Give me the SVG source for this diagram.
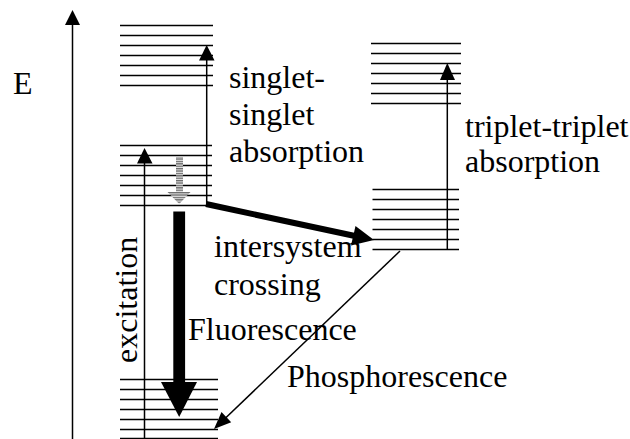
<svg xmlns="http://www.w3.org/2000/svg" width="630" height="439" viewBox="0 0 630 439">
<defs>
<style>
.lvl{stroke:#000;stroke-width:1.5;fill:none}
.ln{stroke:#000;stroke-width:1.5;fill:none}
.t{font-family:"Times New Roman",Times,"Liberation Serif",Tinos,"Noto Serif","DejaVu Serif",FreeSerif,serif;font-size:32px;fill:#000}
</style>
<pattern id="stripe" patternUnits="userSpaceOnUse" width="4" height="2.4">
<rect width="4" height="2.4" fill="#e8e8e8"/>
<rect width="4" height="1.3" fill="#6a6a6a"/>
</pattern>
</defs>
<rect width="630" height="439" fill="#fff"/>

<g id="energy-axis">
<line class="ln" x1="72.5" y1="439" x2="72.5" y2="22"/>
<polygon points="72.5,10 65,25 80,25" fill="#000"/>
<text class="t" x="13" y="94">E</text>
</g>

<g id="S2">
<path class="lvl" d="M120 25.5H213M120 35.5H213M120 45.5H213M120 55.5H213M120 65.5H213M120 75.5H213M120 85.5H213"/>
</g>
<g id="S1">
<path class="lvl" d="M120 145.5H212M120 155.5H212M120 165.5H212M120 175.5H212M120 185.5H212M120 195.5H212M120 205.5H212"/>
</g>
<g id="S0">
<path class="lvl" d="M120 379.5H218M120 389.5H218M120 399.5H218M120 409.5H218M120 419.5H218M120 429.5H218M120 438.5H218"/>
</g>
<g id="T2">
<path class="lvl" d="M371 43.5H461M371 53.5H461M371 63.5H461M371 73.5H461M371 83.5H461M371 93.5H461M371 103.5H461"/>
</g>
<g id="T1">
<path class="lvl" d="M372.5 189.5H459M372.5 199.5H459M372.5 209.5H459M372.5 219.5H459M372.5 229.5H459M372.5 239.5H459M372.5 249.5H459"/>
</g>

<g id="connectors">
<line class="ln" x1="144.5" y1="439" x2="144.5" y2="160"/>
<polygon points="144.5,148 137,163.5 152.5,163.5" fill="#000"/>
<line class="ln" x1="206.7" y1="205.5" x2="206.7" y2="57"/>
<polygon points="206.7,45 199,60.5 214.5,60.5" fill="#000"/>
<line class="ln" x1="447.3" y1="249.5" x2="447.3" y2="75"/>
<polygon points="447.3,63 440,80 455,80" fill="#000"/>
<rect x="176" y="157" width="7" height="35" fill="url(#stripe)"/>
<polygon points="167.5,192 190.5,192 179.2,204" fill="url(#stripe)"/>
<rect x="173.3" y="211.5" width="11.8" height="172" fill="#000"/>
<polygon points="161,382 197,382 179.2,417" fill="#000"/>
<line x1="206" y1="204" x2="355" y2="236" stroke="#000" stroke-width="6"/>
<polygon points="374,240 351,245.5 355.5,226" fill="#000"/>
<line class="ln" x1="400" y1="251" x2="224" y2="419.5"/>
<polygon points="214,429 231.2,422.3 221.5,412.1" fill="#000"/>
</g>

<g id="labels">
<text class="t" x="229" y="88">singlet-</text>
<text class="t" x="229" y="125">singlet</text>
<text class="t" x="229" y="161.5">absorption</text>
<text class="t" x="465" y="136.5">triplet-triplet</text>
<text class="t" x="465" y="171.5">absorption</text>
<text class="t" x="214" y="256.5">intersystem</text>
<text class="t" x="214" y="294.5">crossing</text>
<text class="t" x="188" y="340">Fluorescence</text>
<text class="t" x="287" y="386.5">Phosphorescence</text>
<text class="t" transform="translate(136.5,363) rotate(-90)">excitation</text>
</g>
</svg>
